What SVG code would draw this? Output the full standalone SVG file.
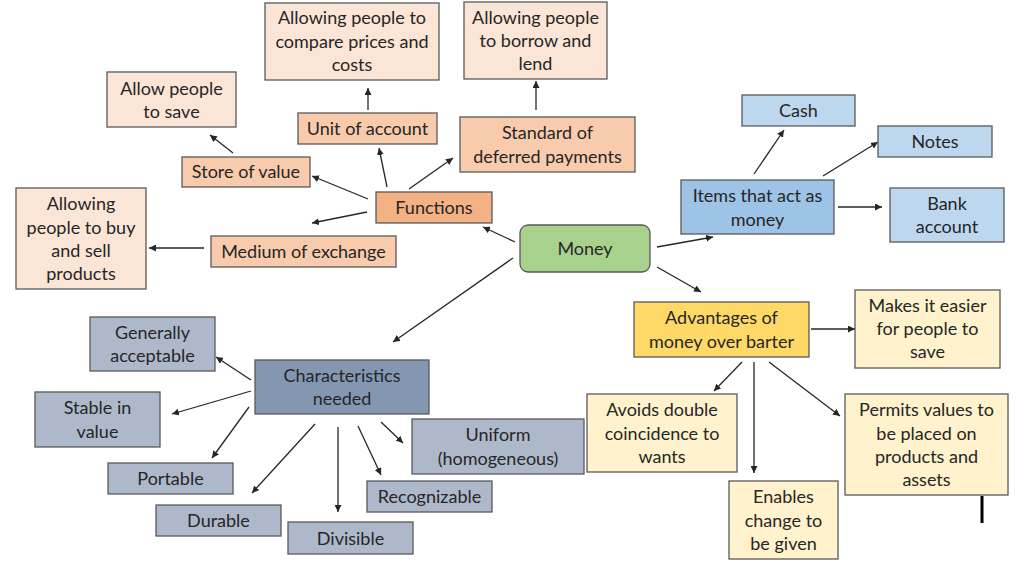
<svg xmlns="http://www.w3.org/2000/svg" width="1024" height="574" viewBox="0 0 1024 574">
<defs>
<marker id="ah" viewBox="0 0 10 10" refX="10" refY="5" markerWidth="7" markerHeight="7" markerUnits="userSpaceOnUse" orient="auto">
<path d="M0,0 L10,5 L0,10 z" fill="#262626"/>
</marker>
<style>
rect{stroke:#595959;stroke-width:1.3}
text{font-family:Lato,"Open Sans","Liberation Sans",sans-serif;font-size:18px;fill:#262626;text-anchor:middle}
.o1{fill:#FBE5D6}.o2{fill:#F8CBAD}.o3{fill:#F4B183}
.b1{fill:#BDD7EE}.b2{fill:#9DC3E6}
.g1{fill:#ADB9CA}.g2{fill:#8497B0}
.y1{fill:#FFF2CC}.y2{fill:#FFD966}
.gr{fill:#A9D18E}
#connectors line{stroke:#262626;stroke-width:1.3;marker-end:url(#ah)}
</style>
</defs>
<rect width="1024" height="574" fill="#FFFFFF" style="stroke:none"/>
<g id="connectors">
<line x1="368" y1="110" x2="368" y2="88"/>
<line x1="233" y1="153" x2="210" y2="135"/>
<line x1="368" y1="199" x2="312" y2="176"/>
<line x1="387" y1="187" x2="379" y2="148"/>
<line x1="409" y1="189" x2="453" y2="158"/>
<line x1="367" y1="212" x2="312" y2="223"/>
<line x1="204" y1="248" x2="149" y2="248"/>
<line x1="515" y1="242" x2="483" y2="227"/>
<line x1="536" y1="110" x2="536" y2="81"/>
<line x1="513" y1="258" x2="393" y2="342"/>
<line x1="657" y1="247" x2="713" y2="237"/>
<line x1="657" y1="267" x2="701" y2="292"/>
<line x1="754" y1="174" x2="784" y2="130"/>
<line x1="823" y1="176" x2="878" y2="142"/>
<line x1="838" y1="207" x2="882" y2="207"/>
<line x1="251" y1="380" x2="216" y2="357"/>
<line x1="251" y1="391" x2="172" y2="414"/>
<line x1="249" y1="407" x2="212" y2="458"/>
<line x1="315" y1="424" x2="252" y2="493"/>
<line x1="338" y1="427" x2="338" y2="512"/>
<line x1="358" y1="426" x2="381" y2="475"/>
<line x1="381" y1="422" x2="403" y2="443"/>
<line x1="811" y1="329" x2="855" y2="329"/>
<line x1="742" y1="362" x2="714" y2="391"/>
<line x1="754" y1="362" x2="754" y2="473"/>
<line x1="769" y1="362" x2="840" y2="416"/>
</g>
<g id="money"><rect class="gr" x="520" y="225" width="130" height="47" rx="8"/><text x="585" y="255">Money</text></g>
<g id="functions"><rect class="o3" x="376" y="192" width="116" height="31"/><text x="434" y="214">Functions</text></g>
<g id="unit"><rect class="o2" x="298" y="113" width="139" height="31"/><text x="367.5" y="135">Unit of account</text></g>
<g id="store"><rect class="o2" x="182" y="157" width="128" height="30"/><text x="246" y="178">Store of value</text></g>
<g id="medium"><rect class="o2" x="211" y="236" width="185" height="31"/><text x="303.5" y="258">Medium of exchange</text></g>
<g id="standard"><rect class="o2" x="460" y="117" width="175" height="55"/><text x="547.5" y="139">Standard of</text><text x="547.5" y="163">deferred payments</text></g>
<g id="compare"><rect class="o1" x="265" y="3" width="174" height="77"/><text x="352" y="24">Allowing people to</text><text x="352" y="48">compare prices and</text><text x="352" y="71">costs</text></g>
<g id="borrow"><rect class="o1" x="464" y="2" width="143" height="77"/><text x="535.5" y="24">Allowing people</text><text x="535.5" y="47">to borrow and</text><text x="535.5" y="70">lend</text></g>
<g id="save"><rect class="o1" x="107" y="72" width="129" height="55"/><text x="171.5" y="95">Allow people</text><text x="171.5" y="118">to save</text></g>
<g id="buysell"><rect class="o1" x="16" y="188" width="130" height="101"/><text x="81" y="210">Allowing</text><text x="81" y="234">people to buy</text><text x="81" y="257">and sell</text><text x="81" y="280">products</text></g>
<g id="items"><rect class="b2" x="681" y="180" width="153" height="54"/><text x="757.5" y="202">Items that act as</text><text x="757.5" y="226">money</text></g>
<g id="cash"><rect class="b1" x="742" y="95" width="113" height="31"/><text x="798.5" y="117">Cash</text></g>
<g id="notes"><rect class="b1" x="878" y="126" width="114" height="31"/><text x="935" y="148">Notes</text></g>
<g id="bank"><rect class="b1" x="890" y="188" width="114" height="54"/><text x="947" y="210">Bank</text><text x="947" y="233">account</text></g>
<g id="characteristics"><rect class="g2" x="255" y="360" width="174" height="54"/><text x="342" y="382">Characteristics</text><text x="342" y="405">needed</text></g>
<g id="generally"><rect class="g1" x="90" y="317" width="125" height="54"/><text x="152.5" y="339">Generally</text><text x="152.5" y="362">acceptable</text></g>
<g id="stable"><rect class="g1" x="35" y="392" width="125" height="55"/><text x="97.5" y="414">Stable in</text><text x="97.5" y="438">value</text></g>
<g id="portable"><rect class="g1" x="108" y="463" width="125" height="31"/><text x="170.5" y="485">Portable</text></g>
<g id="durable"><rect class="g1" x="156" y="505" width="125" height="31"/><text x="218.5" y="527">Durable</text></g>
<g id="divisible"><rect class="g1" x="288" y="522" width="125" height="32"/><text x="350.5" y="545">Divisible</text></g>
<g id="recognizable"><rect class="g1" x="367" y="481" width="125" height="31"/><text x="429.5" y="503">Recognizable</text></g>
<g id="uniform"><rect class="g1" x="412" y="419" width="172" height="55"/><text x="498" y="441">Uniform</text><text x="498" y="465">(homogeneous)</text></g>
<g id="advantages"><rect class="y2" x="634" y="302" width="175" height="55"/><text x="721.5" y="324">Advantages of</text><text x="721.5" y="348">money over barter</text></g>
<g id="easier"><rect class="y1" x="855" y="290" width="145" height="78"/><text x="927.5" y="312">Makes it easier</text><text x="927.5" y="335">for people to</text><text x="927.5" y="358">save</text></g>
<g id="avoids"><rect class="y1" x="587" y="394" width="150" height="78"/><text x="662" y="416">Avoids double</text><text x="662" y="440">coincidence to</text><text x="662" y="463">wants</text></g>
<g id="enables"><rect class="y1" x="729" y="481" width="109" height="78"/><text x="783.5" y="503">Enables</text><text x="783.5" y="527">change to</text><text x="783.5" y="550">be given</text></g>
<g id="permits"><rect class="y1" x="845" y="394" width="163" height="101"/><text x="926.5" y="416">Permits values to</text><text x="926.5" y="440">be placed on</text><text x="926.5" y="463">products and</text><text x="926.5" y="486">assets</text></g>
<line x1="982" y1="496" x2="982" y2="523" stroke="#000000" stroke-width="3"/>
</svg>
